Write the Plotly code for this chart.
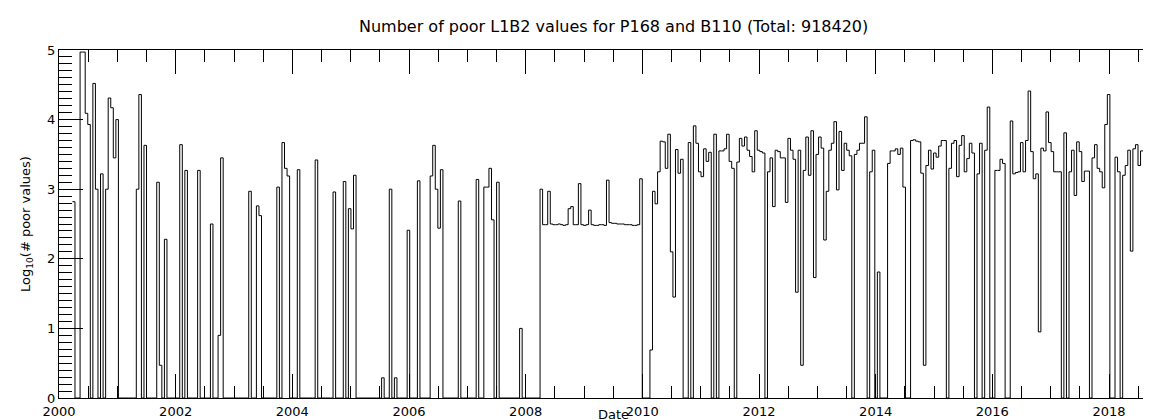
import plotly.graph_objects as go

# ---- data ----
first_bin_start = 2000.23      # decimal year of the first 16-day bin
bin_days = 16                  # MISR repeat cycle
log10_poor = [
    2.82, 0, 0, 4.97, 4.97, 4.09, 3.93, 0, 4.52, 3.0,
    0, 3.22, 0, 3.0, 4.31, 4.17, 3.45, 4.0, 0, 0,
    0, 0, 0, 0, 0, 3.0, 4.36, 0, 3.63, 0,
    0, 0, 0, 3.1, 0.47, 0, 2.28, 0, 0, 0,
    0, 0, 3.64, 0, 3.27, 0, 0, 0, 0, 3.27,
    0, 0, 0, 0, 2.5, 0, 0, 0.9, 3.45, 0,
    0, 0, 0, 0, 0, 0, 0, 0, 0, 2.97,
    0, 0, 2.76, 2.62, 0, 0, 0, 0, 0, 0,
    3.03, 0, 3.67, 3.3, 3.19, 0, 0, 0, 3.28, 0,
    0, 0, 0, 0, 0, 3.42, 0, 0, 0, 0,
    0, 0, 2.96, 0, 0, 0, 3.11, 0, 2.72, 2.43,
    3.2, 0, 0, 0, 0, 0, 0, 0, 0, 0,
    0, 0.29, 0, 0, 3.0, 0, 0.29, 0, 0, 0,
    0, 2.41, 0, 0, 0, 3.12, 0, 0, 0, 0,
    3.19, 3.63, 3.0, 2.44, 3.28, 0, 0, 0, 0, 0,
    0, 2.83, 0, 0, 0, 0, 0, 0, 3.14, 0,
    0, 3.03, 3.03, 3.3, 2.56, 0, 3.1, 0, 0, 0,
    0, 0, 0, 0, 0, 1.0, 0, 0, 0, 0,
    0, 0, 0, 3.0, 2.49, 2.49, 2.97, 2.5, 2.49, 2.49,
    2.5, 2.49, 2.48, 2.49, 2.72, 2.75, 2.49, 2.49, 3.08, 2.49,
    2.48, 2.49, 2.7, 2.49, 2.48, 2.48, 2.49, 2.49, 2.48, 3.13,
    2.52, 2.51, 2.51, 2.5, 2.5, 2.5, 2.49, 2.49, 2.49, 2.48,
    2.48, 2.49, 3.15, 0, 0, 0, 0.69, 2.97, 2.79, 3.25,
    3.69, 3.68, 3.3, 3.79, 2.1, 1.45, 3.57, 3.23, 3.43, 0,
    0, 3.67, 0, 3.91, 3.66, 3.25, 3.18, 3.58, 3.4, 3.53,
    0, 3.79, 0, 3.55, 3.55, 3.58, 3.79, 3.4, 3.3, 0,
    3.39, 3.73, 3.62, 3.75, 3.56, 3.47, 3.25, 3.84, 3.56, 3.54,
    3.52, 0, 3.25, 3.45, 2.75, 3.56, 3.54, 3.45, 3.45, 2.81,
    3.73, 3.56, 3.43, 1.52, 3.56, 0.47, 3.27, 3.75, 3.2, 3.84,
    1.73, 3.5, 3.75, 3.59, 2.27, 2.97, 3.56, 3.66, 3.97, 2.99,
    3.83, 3.27, 3.66, 3.56, 3.48, 0, 3.5, 3.56, 3.66, 3.66,
    4.04, 0, 3.25, 3.56, 0, 1.81, 0, 0, 0, 3.37,
    3.55, 3.55, 3.58, 3.5, 3.59, 3.03, 0, 0, 3.7, 3.71,
    3.69, 3.68, 3.23, 0.47, 3.34, 3.56, 3.29, 3.52, 3.46, 3.62,
    3.7, 3.7, 0, 3.3, 3.66, 3.7, 3.18, 3.63, 3.77, 3.25,
    3.44, 3.66, 3.52, 0, 3.22, 3.66, 0, 3.56, 4.18, 0,
    0, 3.27, 3.27, 3.43, 3.37, 0, 0, 3.98, 3.22, 3.24,
    3.25, 3.67, 3.25, 3.7, 4.41, 3.54, 3.15, 3.22, 0.95, 3.59,
    3.55, 4.11, 3.67, 3.54, 3.25, 3.25, 3.25, 0, 3.81, 0,
    3.25, 3.56, 2.91, 3.68, 3.54, 3.11, 3.26, 3.26, 0, 3.45,
    3.64, 3.3, 3.25, 3.02, 3.93, 4.36, 0, 0, 3.46, 3.25,
    0, 3.2, 3.34, 3.56, 2.11, 3.58, 3.64, 3.34, 3.55, 3.55,
    3.66, 3.66, 3.26, 4.0, 4.0, 2.34, 2.34,
]
x_tick_years = [2000, 2002, 2004, 2006, 2008, 2010, 2012, 2014, 2016, 2018]
y_tick_values = [0, 1, 2, 3, 4, 5]
title_text = "Number of poor L1B2 values for P168 and B110 (Total: 918420)"
x_title = "Date"
y_title = "Log<sub>10</sub>(# poor values)"

# ---- build step line ----
bin_width = bin_days / 365.25
edges = [first_bin_start + i * bin_width for i in range(len(log10_poor) + 1)]
step_y = log10_poor + [log10_poor[-1]]

FONT = "DejaVu Sans"
fig = go.Figure()
fig.add_trace(go.Scatter(
    x=edges, y=step_y, mode="lines",
    line=dict(shape="hv", color="black", width=1),
    showlegend=False, hoverinfo="skip",
))

tick_common = dict(ticks="inside", tickcolor="black", tickwidth=1,
                   showgrid=False, zeroline=False, automargin=False)

fig.update_layout(
    width=1151, height=420,
    margin=dict(l=51, r=0, t=42, b=30),
    paper_bgcolor="white", plot_bgcolor="white",
    font=dict(family=FONT, size=13, color="black"),
    xaxis=dict(
        range=[2000, 2018.857], tickmode="array", tickvals=x_tick_years,
        ticktext=[str(v) for v in x_tick_years],
        ticklen=24, showline=True, linecolor="black", linewidth=1,
        mirror="ticks", ticklabelstandoff=1,
        minor=dict(tickmode="linear", tick0=2000, dtick=0.5, ticks="inside",
                   ticklen=12, tickcolor="black", tickwidth=1, showgrid=False),
        **tick_common,
    ),
    yaxis=dict(
        range=[0, 5], tickmode="array", tickvals=y_tick_values,
        ticklen=24, showline=True, linecolor="black", linewidth=1,
        mirror=False, ticklabelstandoff=0,
        minor=dict(tickmode="linear", tick0=0, dtick=0.1, ticks="inside",
                   ticklen=13, tickcolor="black", tickwidth=1, showgrid=False),
        **tick_common,
    ),
    yaxis2=dict(
        overlaying="y", side="right", range=[0, 5], tickmode="array",
        tickvals=y_tick_values, ticklen=15, showticklabels=False,
        showline=False,
        minor=dict(tickmode="linear", tick0=0, dtick=0.1, ticks="inside",
                   ticklen=4, tickcolor="black", tickwidth=1, showgrid=False),
        **tick_common,
    ),
    annotations=[
        dict(text=title_text, x=2009.5, xref="x", y=1.0, yref="paper",
             showarrow=False, xanchor="center", yanchor="middle",
             font=dict(family=FONT, size=16, color="black")),
        dict(text=x_title, x=2009.5, xref="x", y=0, yref="paper",
             showarrow=False, xanchor="center", yanchor="middle",
             borderpad=0,
             font=dict(family=FONT, size=13, color="black")),
        dict(text=y_title, x=-0.03, xref="paper", y=0.5, yref="paper",
             showarrow=False, xanchor="center", yanchor="middle",
             textangle=-90, font=dict(family=FONT, size=13, color="black")),
    ],
)
# convert pixel positions of the annotations to paper coordinates
plot_top, plot_bottom = 42, 390
h = plot_bottom - plot_top
fig.layout.annotations[0].y = (plot_bottom - 18) / h
fig.layout.annotations[1].y = (plot_bottom - 406) / h

fig.write_html("out.html")
